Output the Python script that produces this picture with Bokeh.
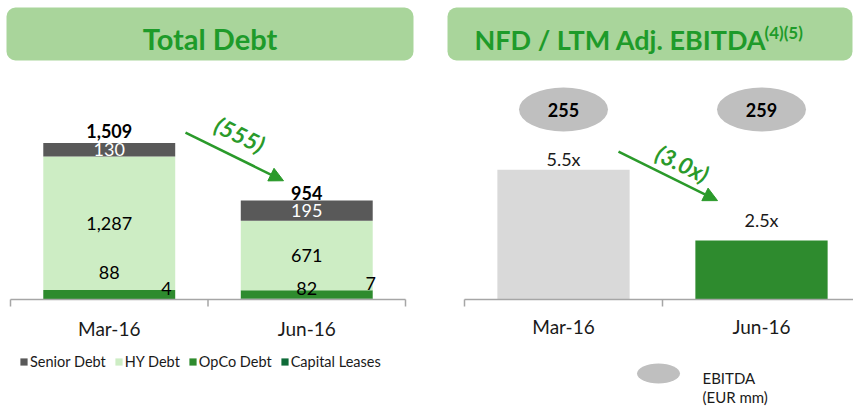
from bokeh.plotting import figure
from bokeh.layouts import row
from bokeh.models import (Range1d, BoxAnnotation, Arrow, NormalHead, Legend,
                          LegendItem, ColumnDataSource)
from bokeh.core.properties import value
from bokeh.embed import file_html
from bokeh.resources import INLINE

# ---------------- data ----------------
categories = ["Mar-16", "Jun-16"]
debt_series = ["Senior Debt", "HY Debt", "OpCo Debt", "Capital Leases"]
senior_debt = [130, 195]
hy_debt = [1287, 671]
opco_debt = [88, 82]
capital_leases = [4, 7]
total_debt = [1509, 954]
leverage = [5.5, 2.5]
ebitda = [255, 259]

# ---------------- styles ----------------
FONT = "Lato"
HEADER_FILL = "#A9D59B"
TITLE_GREEN = "#1E9B2A"
ARROW_GREEN = "#2A9A2A"
AXIS_GREY = "#A6A6A6"
SERIES_COLORS = {"Senior Debt": "#595959", "HY Debt": "#CDEDC4",
                 "OpCo Debt": "#2E8B2E", "Capital Leases": "#0E6B38"}
LEV_COLORS = ["#D9D9D9", "#2E8B2E"]
ELLIPSE_GREY = "#BFBFBF"
TXT = "#1A1A1A"

xc = [i + 0.5 for i in range(len(categories))]
BAR_W = 0.668
H = 407


def fmt(v):
    return f"{v:,}"


def base_fig(w, h, xr, yr):
    p = figure(width=w, height=h, x_range=xr, y_range=yr, output_backend="svg",
               toolbar_location=None, min_border=0, x_axis_location=None,
               y_axis_location=None)
    p.grid.visible = False
    p.outline_line_color = None
    p.background_fill_color = "white"
    return p


# ================= LEFT: Total Debt =================
LX0, LXS, LY0, LYS = 10.0, 197.5, 299.0, 0.1037


def lx(px):
    return (px - LX0) / LXS


def ly(py):
    return (LY0 - py) / LYS


pl = base_fig(426, H, Range1d(lx(0), lx(426)), Range1d(ly(H), ly(0)))

pl.add_layout(BoxAnnotation(left=lx(6), right=lx(413), top=ly(7), bottom=ly(60),
                            fill_color=HEADER_FILL, fill_alpha=1, line_color=None,
                            border_radius=9, level="underlay"))
pl.text(x=[lx(209.5)], y=[ly(38)], text=["Total Debt"], text_font=value(FONT),
        text_font_style="bold", text_font_size="29px", text_color=TITLE_GREEN,
        text_align="center", text_baseline="middle")

src = ColumnDataSource(dict(x=xc, cap=capital_leases, opco=opco_debt,
                            hy=hy_debt, senior=senior_debt))
stack_keys = ["cap", "opco", "hy", "senior"]
stack_names = ["Capital Leases", "OpCo Debt", "HY Debt", "Senior Debt"]
rs = pl.vbar_stack(stack_keys, x="x", width=BAR_W, source=src,
                   color=[SERIES_COLORS[n] for n in stack_names], line_color=None)
rmap = dict(zip(stack_names, rs))

# axis line with boundary ticks
n = len(categories)
pl.segment(x0=[0], y0=[0], x1=[n], y1=[0], line_color=AXIS_GREY, line_width=1.5)
pl.segment(x0=list(range(n + 1)), y0=[0] * (n + 1), x1=list(range(n + 1)),
           y1=[ly(306)] * (n + 1), line_color=AXIS_GREY, line_width=1.5)
pl.text(x=xc, y=[ly(328)] * n, text=categories, text_font=value(FONT),
        text_font_size="19px", text_color=TXT, text_align="center",
        text_baseline="middle")

# labels
stack_top = [c + o + h + s for c, o, h, s in zip(capital_leases, opco_debt, hy_debt, senior_debt)]
pl.text(x=xc, y=stack_top, text=[fmt(v) for v in total_debt], y_offset=[-12, -7],
        text_font=value(FONT), text_font_style="bold", text_font_size="18px",
        text_color="black", text_align="center", text_baseline="middle")
pl.text(x=xc, y=[t - s / 2 for t, s in zip(stack_top, senior_debt)],
        text=[fmt(v) for v in senior_debt], text_font=value(FONT), text_font_size="18px",
        text_color="white", text_align="center", text_baseline="middle")
pl.text(x=xc, y=[c + o + h / 2 for c, o, h in zip(capital_leases, opco_debt, hy_debt)],
        text=[fmt(v) for v in hy_debt], text_font=value(FONT), text_font_size="18px",
        text_color="black", text_align="center", text_baseline="middle")
pl.text(x=xc, y=[c + o / 2 for c, o in zip(capital_leases, opco_debt)],
        text=[fmt(v) for v in opco_debt], y_offset=[-22, -6], text_font=value(FONT),
        text_font_size="18px", text_color="black", text_align="center",
        text_baseline="middle")
pl.text(x=[x + d for x, d in zip(xc, [0.29, 0.324])], y=[c / 2 for c in capital_leases],
        text=[fmt(v) for v in capital_leases], y_offset=[-10.5, -15.5],
        text_font=value(FONT), text_font_size="18px", text_color="black",
        text_align="center", text_baseline="middle")

# change arrow
pl.add_layout(Arrow(end=NormalHead(size=14, fill_color=ARROW_GREEN, line_color=ARROW_GREEN),
                    x_start=lx(185), y_start=stack_top[0] + 100,
                    x_end=lx(283), y_end=stack_top[1] + 190,
                    line_color=ARROW_GREEN, line_width=2.5))
pl.text(x=[lx(239.5)], y=[ly(134)], text=[f"({total_debt[0] - total_debt[1]:,})"],
        angle=-0.45, text_font=value(FONT), text_font_style="bold italic",
        text_font_size="23px", text_color=ARROW_GREEN, text_align="center",
        text_baseline="middle")

legend = Legend(items=[LegendItem(label=nm, renderers=[rmap[nm]]) for nm in debt_series],
                orientation="horizontal", location=(19, 37), padding=0, margin=0,
                spacing=8, glyph_width=9, glyph_height=9, label_standoff=2,
                label_text_font=FONT, label_text_font_size="14.5px",
                label_text_color=TXT, label_height=16,
                background_fill_alpha=0, border_line_color=None)
pl.add_layout(legend)

# ================= RIGHT: NFD / LTM Adj. EBITDA =================
RX0, RXS, RY0, RYS = 464.0, 198.0, 299.0, 23.6


def rx(px):
    return (px - RX0) / RXS


def ry(py):
    return (RY0 - py) / RYS


pr = base_fig(427, H, Range1d(rx(426), rx(853)), Range1d(ry(H), ry(0)))

pr.add_layout(BoxAnnotation(left=rx(447), right=rx(852), top=ry(7), bottom=ry(60),
                            fill_color=HEADER_FILL, fill_alpha=1, line_color=None,
                            border_radius=9, level="underlay"))
pr.text(x=[rx(474)], y=[ry(39)], text=["NFD / LTM Adj. EBITDA"], text_font=value(FONT),
        text_font_style="bold", text_font_size="27px", text_color=TITLE_GREEN,
        text_align="left", text_baseline="middle")
pr.text(x=[rx(764)], y=[ry(32)], text=["(4)(5)"], text_font=value(FONT),
        text_font_style="bold", text_font_size="17px", text_color=TITLE_GREEN,
        text_align="left", text_baseline="middle")

lsrc = ColumnDataSource(dict(x=xc, top=leverage, color=LEV_COLORS))
pr.vbar(x="x", top="top", bottom=0, width=BAR_W, color="color", line_color=None,
        source=lsrc)
pr.segment(x0=[0], y0=[0], x1=[n], y1=[0], line_color=AXIS_GREY, line_width=1.5)
pr.segment(x0=list(range(n + 1)), y0=[0] * (n + 1), x1=list(range(n + 1)),
           y1=[ry(306)] * (n + 1), line_color=AXIS_GREY, line_width=1.5)
pr.text(x=xc, y=[ry(326)] * n, text=categories, text_font=value(FONT),
        text_font_size="19px", text_color=TXT, text_align="center",
        text_baseline="middle")
pr.text(x=xc, y=leverage, text=[f"{v:.1f}x" for v in leverage], y_offset=[-10.5, -20.5],
        text_font=value(FONT), text_font_size="18px", text_color=TXT,
        text_align="center", text_baseline="middle")

# EBITDA ellipses
pr.ellipse(x=xc, y=[ry(109)] * n, width=89, height=44, width_units="screen",
           height_units="screen", fill_color=ELLIPSE_GREY, line_color=None)
pr.text(x=xc, y=[ry(109)] * n, text=[str(v) for v in ebitda], text_font=value(FONT),
        text_font_style="bold", text_font_size="18px", text_color="black",
        text_align="center", text_baseline="middle")

pr.add_layout(Arrow(end=NormalHead(size=14, fill_color=ARROW_GREEN, line_color=ARROW_GREEN),
                    x_start=rx(618), y_start=leverage[0] + 0.77,
                    x_end=rx(717), y_end=leverage[1] + 1.69,
                    line_color=ARROW_GREEN, line_width=2.5))
pr.text(x=[rx(682)], y=[ry(163)], text=[f"({leverage[0] - leverage[1]:.1f}x)"],
        angle=-0.45, text_font=value(FONT), text_font_style="bold italic",
        text_font_size="23px", text_color=ARROW_GREEN, text_align="center",
        text_baseline="middle")

# EBITDA legend
pr.ellipse(x=[rx(658)], y=[ry(373)], width=43, height=20, width_units="screen",
           height_units="screen", fill_color=ELLIPSE_GREY, line_color=None)
pr.text(x=[rx(702)] * 2, y=[ry(377), ry(396)], text=["EBITDA", "(EUR mm)"],
        text_font=value(FONT), text_font_size="15px", text_color=TXT,
        text_align="left", text_baseline="middle")

layout = row(pl, pr)
open("out.html", "w").write(file_html(layout, INLINE))
